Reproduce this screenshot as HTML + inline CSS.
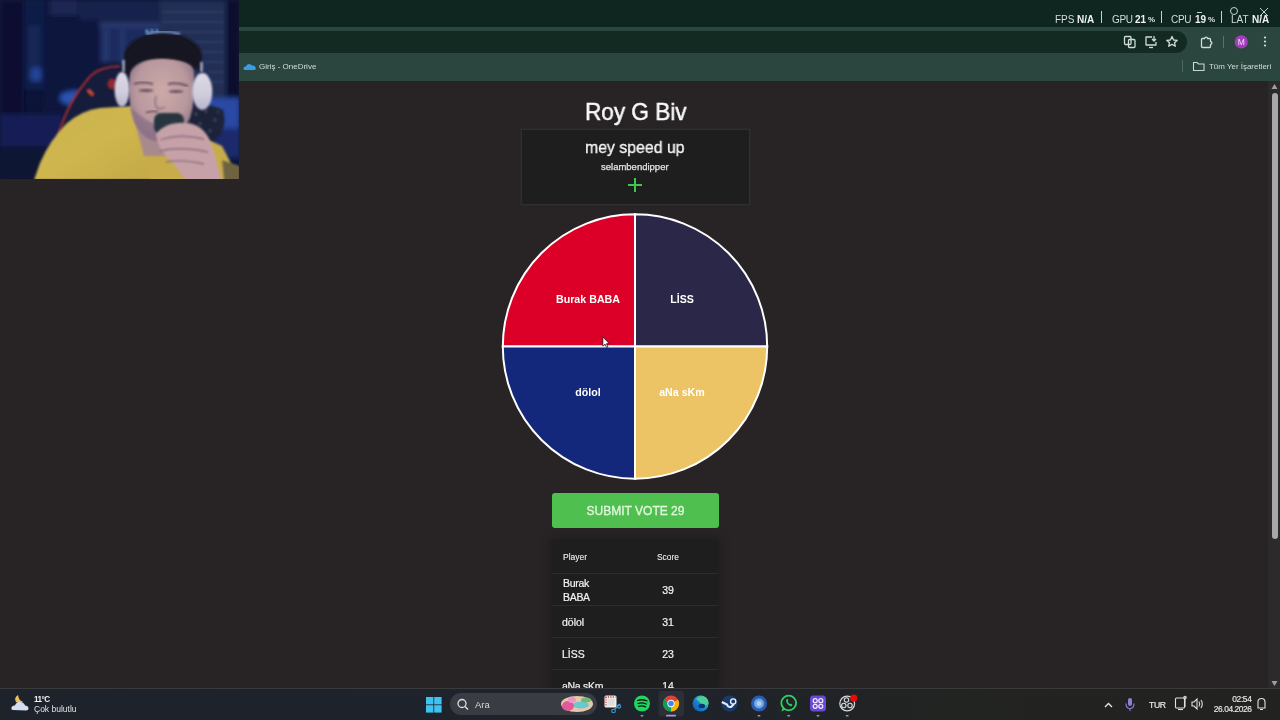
<!DOCTYPE html>
<html><head><meta charset="utf-8"><title>Roy G Biv</title>
<style>
*{box-sizing:border-box;margin:0;padding:0}
html,body{width:1280px;height:720px;overflow:hidden;background:#282425;font-family:"Liberation Sans",sans-serif;position:relative}
.abs{position:absolute}
#tabstrip{left:0;top:0;width:1280px;height:27px;background:#0f2620}
#toolbar{left:0;top:27px;width:1280px;height:54px;background:#2b463e}
#omni{left:200px;top:31px;width:987px;height:22px;border-radius:11px;background:#132a23}
#page{left:0;top:81px;width:1280px;height:607px;background:#282425}
#taskbar{left:0;top:688px;width:1280px;height:32px;background:linear-gradient(90deg,#1e222b 0%,#1f232a 55%,#222421 75%,#222321 100%);border-top:1px solid #3a3a3d}
#cam{left:0;top:0;width:239px;height:179.3px;overflow:hidden;background:#0f1834}
.t{position:absolute;white-space:nowrap;line-height:1;will-change:transform}
svg{will-change:transform}
</style></head><body>
<div id="tabstrip" class="abs"></div>
<div id="toolbar" class="abs"></div>
<div id="omni" class="abs"></div>
<div id="page" class="abs"></div>

<!-- FPS overlay -->
<div class="t" style="left:1055px;top:14.5px;font-size:10px;color:#d3ddd7">FPS</div>
<div class="t" style="left:1077px;top:14.5px;font-size:10px;font-weight:bold;color:#eef2ef">N/A</div>
<div class="abs" style="left:1101px;top:11px;width:1px;height:12px;background:#c8d2cc"></div>
<div class="t" style="left:1112px;top:14.5px;font-size:10px;color:#d3ddd7;letter-spacing:-0.3px">GPU</div>
<div class="t" style="left:1135px;top:14.5px;font-size:10px;font-weight:bold;color:#eef2ef">21</div>
<div class="t" style="left:1148px;top:16px;font-size:8px;font-weight:bold;color:#dfe6e1">%</div>
<div class="abs" style="left:1161px;top:11px;width:1px;height:12px;background:#c8d2cc"></div>
<div class="t" style="left:1170.5px;top:14.5px;font-size:10px;color:#d3ddd7;letter-spacing:-0.3px">CPU</div>
<div class="t" style="left:1195px;top:14.5px;font-size:10px;font-weight:bold;color:#eef2ef">19</div>
<div class="abs" style="left:1197px;top:12px;width:5px;height:1px;background:#c8d2cc"></div>
<div class="t" style="left:1208px;top:16px;font-size:8px;font-weight:bold;color:#dfe6e1">%</div>
<div class="abs" style="left:1221px;top:11px;width:1px;height:12px;background:#c8d2cc"></div>
<div class="t" style="left:1231px;top:14.5px;font-size:10px;color:#d3ddd7">LAT</div>
<div class="t" style="left:1252px;top:14.5px;font-size:10px;font-weight:bold;color:#eef2ef">N/A</div>
<svg class="abs" style="left:1228px;top:5px" width="50" height="14" viewBox="0 0 50 14">
  <circle cx="6" cy="6" r="3.5" fill="none" stroke="#c8d2cc" stroke-width="1"/>
  <path d="M32 3 L40 11 M40 3 L32 11" stroke="#c8d2cc" stroke-width="1"/>
</svg>

<!-- toolbar icons -->
<svg class="abs" style="left:1118px;top:33px" width="160" height="18" viewBox="0 0 160 18">
  <g fill="none" stroke="#cfdcd5" stroke-width="1.3" stroke-linejoin="round">
    <!-- translate -->
    <rect x="6.5" y="3.5" width="6.5" height="8" rx="1"/>
    <rect x="10.5" y="6.5" width="6.5" height="8" rx="1"/>
    <!-- install -->
    <path d="M34 4 L28 4 L28 12 L38 12 L38 9"/>
    <path d="M31 14.5 L35 14.5"/>
    <path d="M36 3 L36 8 M34 6 L36 8 L38 6"/>
    <!-- star -->
    <path d="M54 3.5 L55.6 7 L59.3 7.3 L56.5 9.7 L57.3 13.3 L54 11.4 L50.7 13.3 L51.5 9.7 L48.7 7.3 L52.4 7 Z"/>
    <!-- puzzle -->
    <path d="M84.5 5.5 L86.7 5.5 A1.4 1.4 0 0 1 89.5 5.5 L91.5 5.5 Q92.5 5.5 92.5 6.5 L92.5 8.6 A1.4 1.4 0 0 1 92.5 11.4 L92.5 13.5 Q92.5 14.5 91.5 14.5 L84.5 14.5 Q83.5 14.5 83.5 13.5 L83.5 6.5 Q83.5 5.5 84.5 5.5 Z"/>
  </g>
  <rect x="105" y="3" width="1" height="12" fill="#5a7068"/>
  <circle cx="123.3" cy="8.9" r="6.6" fill="#a33dbd"/>
  <text x="123.3" y="12" font-family="Liberation Sans" font-size="8.5" fill="#f0e0f4" text-anchor="middle">M</text>
  <g fill="#d8e2dc"><circle cx="147" cy="4.5" r="1.1"/><circle cx="147" cy="8.5" r="1.1"/><circle cx="147" cy="12.5" r="1.1"/></g>
</svg>

<!-- bookmarks -->
<svg class="abs" style="left:243px;top:61px" width="14" height="10" viewBox="0 0 14 10">
  <path d="M2 9 Q0 9 0.5 7 Q1 5.5 3 5.6 Q3.5 3 6 3 Q8 3 9 4.5 Q12 4 12.5 6.5 Q13.5 9 11 9 Z" fill="#3a9de8"/>
</svg>
<div class="t" style="left:258.8px;top:62.6px;font-size:8px;color:#d2ddd7">Giriş - OneDrive</div>
<div class="abs" style="left:1182px;top:60px;width:1px;height:12px;background:#4e6760"></div>
<svg class="abs" style="left:1192px;top:60px" width="14" height="12" viewBox="0 0 14 12">
  <path d="M1.5 2.5 L5 2.5 L6.5 4 L12 4 L12 10.5 L1.5 10.5 Z" fill="none" stroke="#cbd8d1" stroke-width="1.1"/>
</svg>
<div class="t" style="left:1209.4px;top:62.6px;font-size:7.95px;color:#d2ddd7">Tüm Yer İşaretleri</div>

<!-- scrollbar -->
<div class="abs" style="left:1268px;top:81px;width:12px;height:607px;background:#2c2a2b"></div>
<svg class="abs" style="left:1268px;top:81px" width="12" height="607" viewBox="0 0 12 607">
  <path d="M3.5 8 L6.5 3 L9.5 8 Z" fill="#a0a0a0"/>
  <rect x="4" y="12" width="6" height="446" rx="3" fill="#a8a8a8"/>
  <path d="M3.5 600 L6.5 605 L9.5 600 Z" fill="#a0a0a0"/>
</svg>

<!-- page content -->
<div class="t" style="left:584.5px;top:100px;font-size:24px;color:#fafafa;-webkit-text-stroke:0.5px #fafafa;transform:scaleX(0.94);transform-origin:0 0">Roy G Biv</div>
<div class="abs" style="left:521px;top:129px;width:229px;height:76px;background:#1f1e1e;border:1px solid #302e2f;box-shadow:0 0 0 1px #2b2829"></div>
<div class="t" style="left:584.5px;top:139px;font-size:17px;color:#f4f4f4;-webkit-text-stroke:0.35px #f4f4f4;transform:scaleX(0.932);transform-origin:0 0">mey speed up</div>
<div class="t" style="left:601px;top:161.7px;font-size:9.5px;color:#e4e4e4;-webkit-text-stroke:0.25px #e4e4e4">selambendipper</div>
<div class="abs" style="left:628px;top:183.5px;width:14px;height:2px;background:#3cc850"></div>
<div class="abs" style="left:634px;top:177.5px;width:2px;height:14px;background:#3cc850"></div>

<svg class="abs" style="left:0;top:0" width="1280" height="720" viewBox="0 0 1280 720">
  <g stroke="#fff" stroke-width="2">
    <path d="M635 346.5 L635 214.3 A132.2 132.2 0 0 0 502.8 346.5 Z" fill="#dc0028"/>
    <path d="M635 346.5 L767.2 346.5 A132.2 132.2 0 0 0 635 214.3 Z" fill="#2a2749"/>
    <path d="M635 346.5 L502.8 346.5 A132.2 132.2 0 0 0 635 478.7 Z" fill="#13287a"/>
    <path d="M635 346.5 L635 478.7 A132.2 132.2 0 0 0 767.2 346.5 Z" fill="#ecc465"/>
  </g>
  <g font-family="Liberation Sans" font-weight="bold" font-size="10.67" fill="#fff" text-anchor="middle">
    <text x="588" y="302.5">Burak BABA</text>
    <text x="682" y="302.5">LİSS</text>
    <text x="588" y="396">dölol</text>
    <text x="682" y="396">aNa sKm</text>
  </g>
</svg>

<div class="abs" style="left:552px;top:493px;width:167px;height:35px;background:#4fc050;border-radius:3px"></div>
<div class="t" style="left:552px;top:505.2px;width:167px;text-align:center;font-size:12px;color:#e4f7df;letter-spacing:0px;-webkit-text-stroke:0.3px #e4f7df">SUBMIT VOTE 29</div>

<div class="abs" style="left:552px;top:540px;width:166px;height:150px;background:#1f1e1f;box-shadow:0 0 8px 1px rgba(22,20,21,0.6)"></div>
<div class="t" style="left:562.5px;top:553px;font-size:8.5px;color:#d4d4d4;font-weight:normal;text-shadow:0 0 0.4px #d4d4d4">Player</div>
<div class="t" style="left:618px;top:553px;width:100px;text-align:center;font-size:8.5px;color:#d4d4d4;font-weight:normal;text-shadow:0 0 0.4px #d4d4d4">Score</div>
<div class="abs" style="left:552px;top:572.5px;width:166px;height:1px;background:#2e2d2e"></div>
<div class="t" style="left:562.5px;top:575.5px;font-size:10.5px;color:#f2f2f2;line-height:14px;white-space:normal;width:50px;letter-spacing:-0.3px;-webkit-text-stroke:0.2px #f2f2f2">Burak BABA</div>
<div class="t" style="left:618px;top:584.8px;width:100px;text-align:center;font-size:10.5px;color:#f2f2f2;-webkit-text-stroke:0.2px #f2f2f2">39</div>
<div class="abs" style="left:552px;top:604.5px;width:166px;height:1px;background:#2e2d2e"></div>
<div class="t" style="left:562.3px;top:617px;font-size:10.5px;color:#f2f2f2;-webkit-text-stroke:0.2px #f2f2f2">dölol</div>
<div class="t" style="left:618px;top:617px;width:100px;text-align:center;font-size:10.5px;color:#f2f2f2;-webkit-text-stroke:0.2px #f2f2f2">31</div>
<div class="abs" style="left:552px;top:636.5px;width:166px;height:1px;background:#2e2d2e"></div>
<div class="t" style="left:562.3px;top:649.2px;font-size:10.5px;color:#f2f2f2;-webkit-text-stroke:0.2px #f2f2f2">LİSS</div>
<div class="t" style="left:618px;top:649.2px;width:100px;text-align:center;font-size:10.5px;color:#f2f2f2;-webkit-text-stroke:0.2px #f2f2f2">23</div>
<div class="abs" style="left:552px;top:668.5px;width:166px;height:1px;background:#2e2d2e"></div>
<div class="t" style="left:562.3px;top:681px;font-size:10.5px;color:#f2f2f2;-webkit-text-stroke:0.2px #f2f2f2;letter-spacing:-0.3px">aNa sKm</div>
<div class="t" style="left:618px;top:681px;width:100px;text-align:center;font-size:10.5px;color:#f2f2f2;-webkit-text-stroke:0.2px #f2f2f2">14</div>

<!-- cursor -->
<svg class="abs" style="left:601.6px;top:336.1px" width="10.2" height="13.6" viewBox="0 0 12 16">
  <path d="M1 1 L1 12 L3.6 9.6 L5.4 13.6 L7 12.9 L5.3 9 L8.6 9 Z" fill="#fff" stroke="#000" stroke-width="0.8"/>
</svg>

<div id="taskbar" class="abs"></div>
<!-- weather -->
<svg class="abs" style="left:10px;top:692px" width="22" height="22" viewBox="0 0 22 22">
  <path d="M8 3 Q3.5 6 6 10 Q9 12.5 13 9.5 Q9 9 8 3 Z" fill="#e8c060"/>
  <path d="M3 18 Q1 18 1.5 15.5 Q2.5 13 5 13.5 Q6 10 10 10 Q14 10 15 13.5 Q18 13.5 18.5 16 Q18.5 18.5 16 18.5 Z" fill="#d4def2"/>
</svg>
<div class="t" style="left:34px;top:695.5px;font-size:8.2px;color:#f0f0f0;font-weight:bold;letter-spacing:-0.6px">11°C</div>
<div class="t" style="left:34px;top:705px;font-size:8.5px;color:#e2e2e2">Çok bulutlu</div>
<!-- start -->
<svg class="abs" style="left:426px;top:696.5px" width="16" height="16" viewBox="0 0 16 16">
  <g fill="#3ec2f0"><rect x="0" y="0" width="7.4" height="7.4"/><rect x="8.2" y="0" width="7.4" height="7.4"/><rect x="0" y="8.2" width="7.4" height="7.4"/><rect x="8.2" y="8.2" width="7.4" height="7.4"/></g>
</svg>
<!-- search -->
<div class="abs" style="left:450px;top:693px;width:147px;height:22px;border-radius:11px;background:#393c43"></div>
<svg class="abs" style="left:456px;top:698px" width="14" height="14" viewBox="0 0 14 14">
  <circle cx="6" cy="5.5" r="4" fill="none" stroke="#e0e0e0" stroke-width="1.3"/>
  <path d="M9 8.5 L12 11.5" stroke="#e0e0e0" stroke-width="1.4"/>
</svg>
<div class="t" style="left:474.5px;top:699.5px;font-size:9.5px;color:#d8d8d8">Ara</div>
<svg class="abs" style="left:560px;top:695px" width="34" height="18" viewBox="0 0 34 18">
  <ellipse cx="17" cy="9" rx="16" ry="8" fill="#e8c8a8"/>
  <ellipse cx="21" cy="10" rx="8" ry="3.5" fill="#6ac8d0"/>
  <ellipse cx="8" cy="11" rx="6" ry="5" fill="#e05a9a"/>
  <ellipse cx="12" cy="5" rx="4" ry="3" fill="#e898c8"/>
  <ellipse cx="26" cy="5" rx="5" ry="2.5" fill="#70b878"/>
</svg>
<!-- apps -->
<svg class="abs" style="left:600px;top:688px" width="270" height="32" viewBox="600 688 270 32">
  <!-- snipping -->
  <rect x="604.5" y="695.5" width="12" height="12" rx="1.5" fill="#f2eeee"/>
  <path d="M605.5 697 L615.5 697" stroke="#c84040" stroke-width="1.3" stroke-dasharray="1.2 1.2"/>
  <path d="M606 697 L606 706" stroke="#c84040" stroke-width="1.3" stroke-dasharray="1.2 1.2"/>
  <rect x="607.5" y="698.5" width="7" height="7" fill="#e0dcdc"/>
  <circle cx="613.5" cy="711" r="1.8" fill="none" stroke="#3aa0d8" stroke-width="1.1"/>
  <path d="M614.5 709.5 L620 704" stroke="#3aa0d8" stroke-width="1.1"/>
  <circle cx="619" cy="706.5" r="1.6" fill="none" stroke="#3aa0d8" stroke-width="1.1"/>
  <!-- spotify -->
  <circle cx="642" cy="703.5" r="8" fill="#1ed760"/>
  <path d="M637.5 700.5 Q642 698.8 647 701 M638 703.5 Q642 702.2 646.4 704 M638.6 706.3 Q642 705.3 645.6 706.8" fill="none" stroke="#121212" stroke-width="1.3" stroke-linecap="round"/>
  <rect x="640.5" y="715" width="3" height="1.4" rx="0.7" fill="#9a9a9a"/>
  <!-- chrome active -->
  <rect x="658.5" y="691" width="25.5" height="25.5" rx="3" fill="#2c2f36"/>
  <circle cx="671" cy="703.5" r="8" fill="#db4437"/>
  <path d="M671 703.5 L664.07 699.5 A8 8 0 0 0 671 711.5 Z" fill="#0f9d58"/>
  <path d="M671 703.5 L671 711.5 A8 8 0 0 0 677.93 699.5 Z" fill="#f4b400"/>
  <path d="M671 703.5 L677.93 699.5 L664.07 699.5 Z" fill="#db4437"/>
  <circle cx="671" cy="703.5" r="3.7" fill="#fff"/>
  <circle cx="671" cy="703.5" r="2.8" fill="#4285f4"/>
  <rect x="666" y="714.8" width="10" height="1.8" rx="0.9" fill="#b48ee8"/>
  <!-- edge -->
  <defs><linearGradient id="edg" x1="0.1" y1="0.9" x2="0.9" y2="0.1"><stop offset="0" stop-color="#0f5fb8"/><stop offset="0.5" stop-color="#1a8ad8"/><stop offset="0.8" stop-color="#36c0b0"/><stop offset="1" stop-color="#58d88a"/></linearGradient></defs>
  <circle cx="700.6" cy="703.5" r="8" fill="url(#edg)"/>
  <path d="M696 699 Q700 695.5 705 697 Q709 699.5 708.3 703.5 Q707 706 703.5 705.5 Q701 704.5 700 702.5 Q698.5 700.5 696 699 Z" fill="#4ccf96"/>
  <ellipse cx="701.8" cy="706" rx="3.3" ry="2.2" fill="#0b3470"/>
  <!-- steam -->
  <circle cx="729.6" cy="703.5" r="8" fill="#1a3a6a"/>
  <path d="M721.8 702 L727 704.5 Q728 707.5 731 707 L734 704" fill="none" stroke="#e8eef6" stroke-width="2"/>
  <circle cx="733.2" cy="701.5" r="2.6" fill="none" stroke="#e8eef6" stroke-width="1.4"/>
  <!-- blue circle -->
  <circle cx="759" cy="703.5" r="8" fill="#2a5cb0"/>
  <circle cx="759" cy="703.5" r="5" fill="#6aa8e8"/>
  <circle cx="759" cy="703.5" r="2.5" fill="#b8c8e8"/>
  <rect x="757.5" y="715" width="3" height="1.4" rx="0.7" fill="#9a9a9a"/>
  <!-- whatsapp -->
  <circle cx="788.7" cy="703" r="7.4" fill="none" stroke="#2ed062" stroke-width="1.8"/>
  <path d="M781.5 711.5 L783 706.5 L785.5 709.5 Z" fill="#2ed062"/>
  <path d="M786 700 Q786 704 791 706.5 L792.5 705 L791 703.5 L790 704.3 Q788 703 787.7 701 L788.5 700.2 L787.3 698.8 Z" fill="#2ed062"/>
  <rect x="787.2" y="715" width="3" height="1.4" rx="0.7" fill="#9a9a9a"/>
  <!-- purple app -->
  <rect x="810" y="695.5" width="16" height="16" rx="3.5" fill="#6a48d8"/>
  <g fill="none" stroke="#f0eaff" stroke-width="1.2">
    <circle cx="815.2" cy="700.7" r="2"/><circle cx="820.8" cy="700.7" r="2"/>
    <circle cx="815.2" cy="706.3" r="2"/><circle cx="820.8" cy="706.3" r="2"/>
  </g>
  <rect x="816.5" y="715" width="3" height="1.4" rx="0.7" fill="#9a9a9a"/>
  <!-- obs -->
  <circle cx="847.2" cy="703.5" r="7.4" fill="#2a2a2e" stroke="#d8d8d8" stroke-width="1.2"/>
  <g fill="none" stroke="#d8d8d8" stroke-width="1.1">
    <circle cx="846.5" cy="700" r="2.2"/><circle cx="843.8" cy="705.5" r="2.2"/><circle cx="850" cy="705.5" r="2.2"/>
  </g>
  <circle cx="853.8" cy="698" r="3.6" fill="#e80a0a"/>
  <rect x="845.7" y="715" width="3" height="1.4" rx="0.7" fill="#9a9a9a"/>
</svg>
<!-- tray -->
<svg class="abs" style="left:1100px;top:688px" width="180" height="32" viewBox="1100 688 180 32">
  <path d="M1105 707 L1108.5 703.5 L1112 707" fill="none" stroke="#e8e8e8" stroke-width="1.3"/>
  <rect x="1128" y="698" width="4" height="8" rx="2" fill="#8a80d8"/>
  <path d="M1126 703.5 Q1126 708.5 1130 708.5 Q1134 708.5 1134 703.5 M1130 708.5 L1130 711" fill="none" stroke="#8a80d8" stroke-width="1.1"/>
  <g fill="none" stroke="#e0e0e0" stroke-width="1.1">
    <rect x="1175.5" y="698" width="9" height="10" rx="1"/>
    <path d="M1185 697 L1185 707"/><circle cx="1185" cy="697.5" r="1.2"/>
    <path d="M1178 709.5 L1183 709.5"/>
    <path d="M1192 702 L1194 702 L1197 699 L1197 709 L1194 706 L1192 706 Z"/>
    <path d="M1199 701.5 Q1200.5 704 1199 706.5 M1201 700 Q1203.5 704 1201 708"/>
    <path d="M1258 708 L1258 702 Q1258 698.5 1261.5 698.5 Q1265 698.5 1265 702 L1265 708 Z M1260 709.5 L1263 709.5"/>
  </g>
</svg>
<div class="t" style="left:1148.5px;top:700.5px;font-size:8.6px;color:#e8e8e8;letter-spacing:-0.3px;-webkit-text-stroke:0.2px #e8e8e8">TUR</div>
<div class="t" style="left:1200px;top:695px;width:51.5px;text-align:right;font-size:8.4px;color:#e8e8e8;letter-spacing:-0.35px;-webkit-text-stroke:0.15px #e8e8e8">02:54</div>
<div class="t" style="left:1200px;top:705px;width:51.5px;text-align:right;font-size:8.4px;color:#e8e8e8;letter-spacing:-0.42px;-webkit-text-stroke:0.15px #e8e8e8">26.04.2026</div>
<div id="cam" class="abs">
<svg width="240" height="180" viewBox="0 0 240 180">
  <defs>
    <filter id="b2" x="-20%" y="-20%" width="140%" height="140%"><feGaussianBlur stdDeviation="1.2"/></filter>
    <filter id="b3" x="-20%" y="-20%" width="140%" height="140%"><feGaussianBlur stdDeviation="2.5"/></filter>
    <radialGradient id="face" cx="0.5" cy="0.4" r="0.62">
      <stop offset="0" stop-color="#cdaaa8"/>
      <stop offset="0.65" stop-color="#b8989e"/>
      <stop offset="1" stop-color="#8a7084"/>
    </radialGradient>
    <linearGradient id="cup" x1="0" y1="0" x2="0" y2="1">
      <stop offset="0" stop-color="#dcdae6"/>
      <stop offset="0.6" stop-color="#d0ccdc"/>
      <stop offset="1" stop-color="#b8b4cc"/>
    </linearGradient>
    <linearGradient id="shirt" x1="0" y1="0" x2="1" y2="1">
      <stop offset="0" stop-color="#cab350"/>
      <stop offset="0.5" stop-color="#cfb64e"/>
      <stop offset="1" stop-color="#c2a848"/>
    </linearGradient>
  </defs>
  <rect width="240" height="180" fill="#0c1538"/>
  <g filter="url(#b3)">
    <rect x="0" y="0" width="24" height="120" fill="#0a1130"/>
    <rect x="24" y="0" width="20" height="90" fill="#111c46"/>
    <rect x="28" y="26" width="12" height="54" fill="#172556"/>
    <rect x="31" y="68" width="10" height="13" fill="#24449a"/>
    <rect x="44" y="0" width="56" height="110" fill="#0c173e"/>
    <rect x="50" y="0" width="28" height="15" fill="#1a2652"/>
    <rect x="80" y="0" width="80" height="20" fill="#16224c"/>
    <rect x="100" y="22" width="60" height="5" fill="#2a3e72"/>
    <rect x="100" y="27" width="60" height="36" fill="#1c2c5e"/>
    <rect x="104" y="30" width="4" height="32" fill="#2a3e72"/>
    <rect x="120" y="30" width="5" height="32" fill="#24386a"/>
    <rect x="160" y="0" width="66" height="100" fill="#222e54"/>
    <rect x="226" y="0" width="14" height="100" fill="#0a112e"/>
    <rect x="205" y="98" width="35" height="30" fill="#2a4aa4"/>
    <rect x="205" y="128" width="35" height="30" fill="#1a2a6c"/>
    <rect x="0" y="114" width="62" height="32" fill="#141e54"/>
    <rect x="0" y="146" width="50" height="34" fill="#0a1232"/>
    <ellipse cx="74" cy="98" rx="14" ry="7" fill="#2c54b4"/>
  </g>
  <g stroke="#34446c" stroke-width="1.5" filter="url(#b2)" opacity="0.8">
    <line x1="162" y1="12" x2="224" y2="12"/><line x1="162" y1="22" x2="224" y2="22"/>
    <line x1="176" y1="32" x2="224" y2="32"/><line x1="190" y1="42" x2="224" y2="42"/>
    <line x1="196" y1="52" x2="224" y2="52"/><line x1="204" y1="62" x2="224" y2="62"/>
    <line x1="208" y1="72" x2="224" y2="72"/><line x1="210" y1="82" x2="224" y2="82"/>
  </g>
  <!-- chair -->
  <g filter="url(#b2)">
    <path d="M90 76 Q100 66 120 66 L122 108 L80 132 L60 134 Q68 100 90 76 Z" fill="#161c3a"/>
    <path d="M58 136 Q66 104 90 76 Q100 66 120 66" fill="none" stroke="#a83030" stroke-width="1.6"/>
    <ellipse cx="112" cy="84" rx="4" ry="5" fill="#902a30"/>
    <path d="M88 90 L93 95" stroke="#d04a2a" stroke-width="3"/>
  </g>
  <!-- shirt -->
  <g filter="url(#b2)">
    <path d="M34 180 L40 163 Q50 140 66 124 Q82 110 100 108 L132 106 L145 125 L155 148 L160 180 Z" fill="url(#shirt)"/>
    <path d="M150 140 L200 136 L222 146 L232 165 L236 181 L150 181 Z" fill="#c8ac48"/><path d="M222 160 L240 166 L240 181 L224 181 Z" fill="#6e6440"/>
  </g>
  <!-- scarf -->
  <path d="M184 108 Q204 100 223 110 Q228 128 216 140 Q198 142 184 128 Z" fill="#1e2438" filter="url(#b2)"/>
  <g fill="#383c56" filter="url(#b2)"><circle cx="196" cy="114" r="2"/><circle cx="206" cy="111" r="2"/><circle cx="215" cy="120" r="2"/><circle cx="200" cy="124" r="2"/><circle cx="210" cy="131" r="2"/><circle cx="218" cy="112" r="1.5"/></g>
  <!-- neck -->
  <path d="M134 118 L166 118 L166 156 L144 156 Z" fill="#a88a8e" filter="url(#b2)"/>
  <!-- hair base -->
  <ellipse cx="163" cy="56" rx="39" ry="23" fill="#171824" filter="url(#b2)"/>
  <!-- face -->
  <path d="M130 70 Q131 58 161 58 Q193 58 194 72 Q196 100 190 118 Q180 140 156 141 Q140 138 133 118 Q127 100 130 70 Z" fill="url(#face)" filter="url(#b2)"/>
  <g filter="url(#b2)" fill="#6a4e62">
    <ellipse cx="146" cy="90.5" rx="7.5" ry="1.5"/>
    <ellipse cx="176" cy="91.5" rx="7.5" ry="1.5"/>
  </g>
  <g fill="none" stroke="#5e4658" stroke-width="2" filter="url(#b2)" opacity="0.9">
    <path d="M134 84 Q143 81 153 84"/>
    <path d="M168 84 Q178 82 188 86"/>
  </g>
  <path d="M156 96 Q154 104 157 108 Q161 110 165 107" fill="none" stroke="#9a7a88" stroke-width="2" filter="url(#b2)"/>
  <path d="M146 113 Q152 110 158 112" fill="none" stroke="#7a6070" stroke-width="2.2" filter="url(#b2)"/>
  <path d="M131 108 Q136 136 156 141 L160 126 Q146 122 131 108 Z" fill="#8a7086" filter="url(#b2)" opacity="0.75"/>
  <!-- hair top -->
  <path d="M124 76 Q124 36 163 34 Q201 36 202 76 Q196 60 164 58 Q134 58 127 78 Z" fill="#161722" filter="url(#b2)"/>
  <path d="M146 34 Q163 29 180 34" fill="none" stroke="#7890c0" stroke-width="2.5" filter="url(#b2)"/>
  <g fill="#70c8e8" filter="url(#b2)"><circle cx="147" cy="31" r="1.5"/><circle cx="152" cy="30.5" r="1.3"/><circle cx="157" cy="30.5" r="1.2"/></g>
  <path d="M123.5 60 L123.5 72 M201.5 62 L201.5 72" stroke="#d0d4e8" stroke-width="2" filter="url(#b2)"/>
  <!-- headphones -->
  <ellipse cx="122" cy="89.5" rx="7.5" ry="17.5" fill="url(#cup)" filter="url(#b2)"/>
  <ellipse cx="202.3" cy="91.5" rx="10" ry="18.5" fill="url(#cup)" filter="url(#b2)"/>
  <!-- mic -->
  <rect x="154" y="113" width="30" height="21" rx="7" fill="#283640" filter="url(#b2)"/>
  <!-- hand -->
  <path d="M156 134 Q166 121 188 123 Q206 126 212 146 Q218 166 222 181 L185 181 Q178 168 170 160 Q158 150 156 134 Z" fill="#c6a2a8" filter="url(#b2)"/>
  <g fill="none" stroke="#8a6a7c" stroke-width="1.3" filter="url(#b2)">
    <path d="M160 140 Q180 133 204 139"/>
    <path d="M160 151 Q180 146 208 152"/>
    <path d="M166 162 Q182 159 204 164"/>
  </g>
</svg>
</div>
</body></html>
